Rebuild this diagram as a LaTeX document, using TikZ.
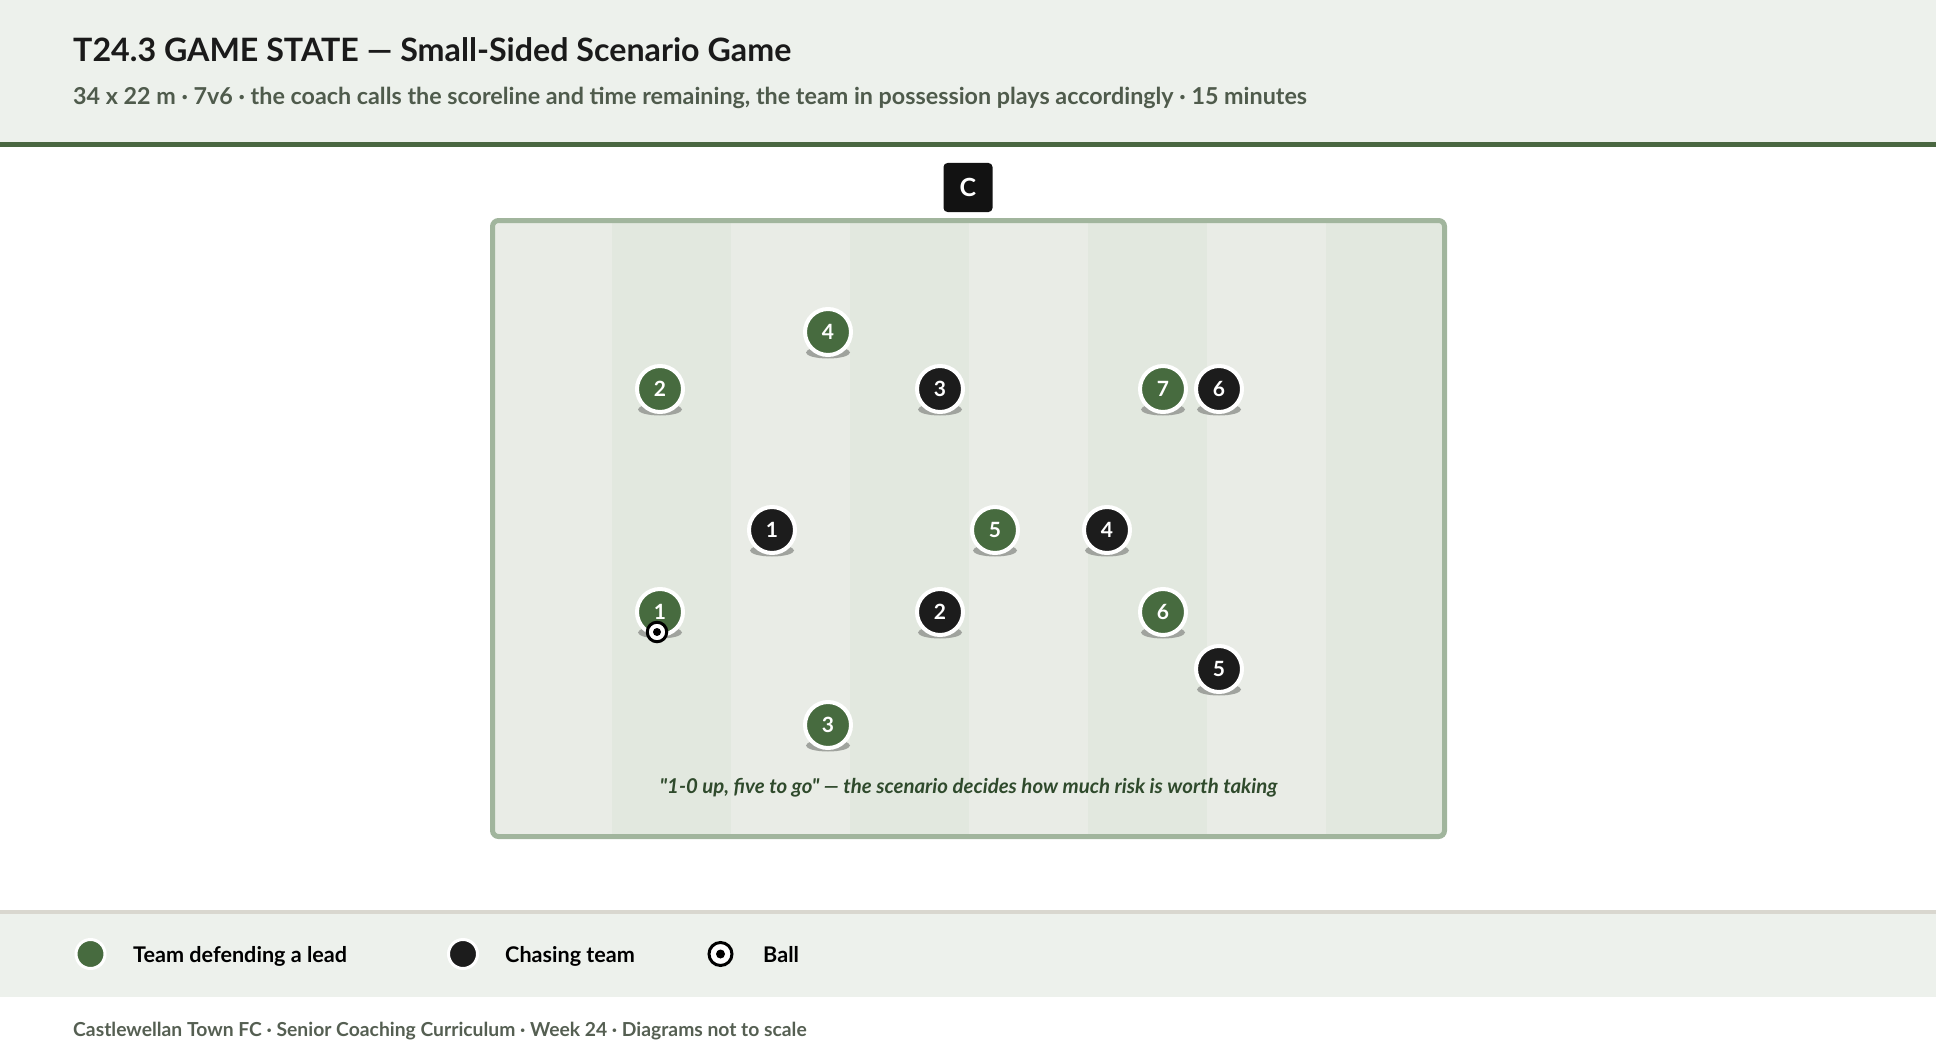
\documentclass[tikz,border=0pt]{standalone}
\usepackage{fontspec}
\setmainfont{Lato}[Ligatures=TeXOff]
\definecolor{hdrbg}{HTML}{EDF1EC}
\definecolor{rulegreen}{HTML}{4A6741}
\definecolor{titlecol}{HTML}{1A1A1A}
\definecolor{subcol}{HTML}{4F5B4C}
\definecolor{stripeA}{HTML}{E9ECE6}
\definecolor{stripeB}{HTML}{E2E8DF}
\definecolor{pitchline}{HTML}{A1B59D}
\definecolor{teamgreen}{HTML}{476B3F}
\definecolor{teamblack}{HTML}{1C1C1C}
\definecolor{shadowcol}{HTML}{A0A39E}
\definecolor{quotecol}{HTML}{2F4A2C}
\definecolor{legendrule}{HTML}{D9D7CF}
\definecolor{footcol}{HTML}{555F52}
\tikzset{
  player/.style={circle, minimum size=46pt, inner sep=0pt, draw=white, line width=4pt,
    text=white, font=\fontsize{21}{24}\selectfont\bfseries},
  gplayer/.style={player, fill=teamgreen},
  bplayer/.style={player, fill=teamblack},
  legdot/.style={circle, minimum size=29pt, inner sep=0pt, draw=white, line width=3pt},
  legtext/.style={anchor=base west, inner sep=0pt, font=\fontsize{21.6}{25}\selectfont\bfseries, text=black},
  ballring/.style={circle, inner sep=0pt, fill=white, draw=black, line width=3pt},
}
\begin{document}
\begin{tikzpicture}[x=1pt,y=-1pt]
\useasboundingbox (0,0) rectangle (1936,1054);
% header
\fill[hdrbg] (0,0) rectangle (1936,142);
\fill[rulegreen] (0,142) rectangle (1936,147.5);
\node[anchor=base west, inner sep=0pt, text=titlecol, font=\fontsize{32.2}{38}\selectfont\bfseries] (title) at (73,61.5) {T24.3 GAME STATE — Small-Sided Scenario Game};
\node[anchor=base west, inner sep=0pt, text=subcol, font=\fontsize{23.3}{27}\selectfont\bfseries] (subtitle) at (73,104.5) {34 x 22 m · 7v6 · the coach calls the scoreline and time remaining, the team in possession plays accordingly · 15 minutes};
% coach
\node[fill=black!93, rounded corners=4pt, minimum size=49pt, inner sep=0pt, text=white, font=\fontsize{25}{28}\selectfont\bfseries] (coach) at (968,187.5) {C};
% pitch stripes
\foreach \i in {0,...,7} {
  \pgfmathsetmacro{\xa}{492.5+119*\i}
  \pgfmathsetmacro{\xb}{492.5+119*(\i+1)}
  \pgfmathparse{mod(\i,2)==0 ? "stripeA" : "stripeB"}
  \fill[\pgfmathresult] (\xa,220.5) rectangle (\xb,836.5);
}
\draw[pitchline, line width=5pt, rounded corners=6pt] (492.5,220.5) rectangle (1444.5,836.5);
% shadows
\foreach \x/\y in {828/332, 660/389, 1163/389, 995/530, 660/612, 1163/612, 828/725,
                   940/389, 1219/389, 772/530, 1107/530, 940/612, 1219/669} {
  \fill[shadowcol] (\x,\y+20.5) ellipse [x radius=22, y radius=6];
}
% green team
\node[gplayer] (g4) at (828,332) {4};
\node[gplayer] (g2) at (660,389) {2};
\node[gplayer] (g7) at (1163,389) {7};
\node[gplayer] (g5) at (995,530) {5};
\node[gplayer] (g1) at (660,612) {1};
\node[gplayer] (g6) at (1163,612) {6};
\node[gplayer] (g3) at (828,725) {3};
% black team
\node[bplayer] (b3) at (940,389) {3};
\node[bplayer] (b6) at (1219,389) {6};
\node[bplayer] (b1) at (772,530) {1};
\node[bplayer] (b4) at (1107,530) {4};
\node[bplayer] (b2) at (940,612) {2};
\node[bplayer] (b5) at (1219,669) {5};
% ball
\node[ballring, minimum size=19.5pt] (ball) at (657,632) {};
\fill[black] (ball.center) circle (4);
% quote
\node[anchor=base, inner sep=0pt, text=quotecol, font=\fontsize{20.4}{24}\selectfont\bfseries\itshape] (quote) at (968.5,793) {"1-0 up, five to go" — the scenario decides how much risk is worth taking};
% legend band
\fill[hdrbg] (0,913) rectangle (1936,997);
\fill[legendrule] (0,909.5) rectangle (1936,913.5);
\node[legdot, fill=teamgreen] (lg) at (90.5,954) {};
\node[legtext] (lgt) at (133,962) {Team defending a lead};
\node[legdot, fill=teamblack] (lb) at (463,954) {};
\node[legtext] (lbt) at (505,962) {Chasing team};
\node[ballring, minimum size=23pt] (lball) at (720.5,954) {};
\fill[black] (lball.center) circle (4.5);
\node[legtext] (lballt) at (763,962) {Ball};
% footer
\node[anchor=base west, inner sep=0pt, text=footcol, font=\fontsize{19.3}{23}\selectfont\bfseries] (footer) at (73,1036.5) {Castlewellan Town FC · Senior Coaching Curriculum · Week 24 · Diagrams not to scale};
\end{tikzpicture}
\end{document}
